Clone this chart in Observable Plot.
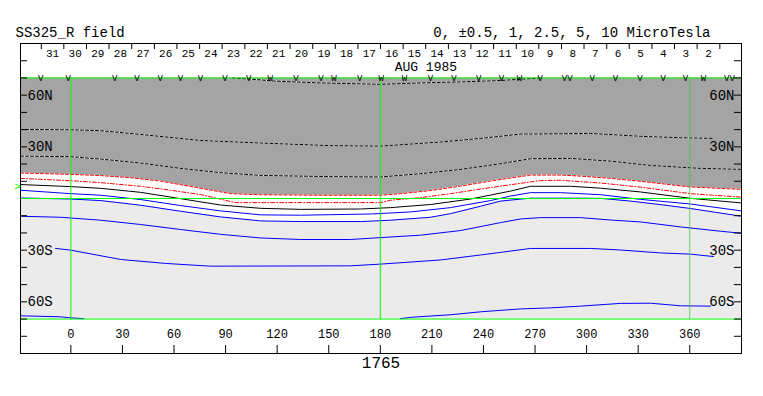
<!DOCTYPE html>
<html><head><meta charset="utf-8">
<script src="https://cdn.jsdelivr.net/npm/d3@7"></script>
<script src="https://cdn.jsdelivr.net/npm/@observablehq/plot@0.6"></script>
<style>body{margin:0;background:#fff}</style>
</head><body><div id="chart"></div>
<script>
const title = "SS325_R field";
const levelsLabel = "0, \u00B10.5, 1, 2.5, 5, 10 MicroTesla";
const rotationLabel = "1765";
const monthLabel = "AUG 1985";

const lonDomain = [-29.3, 390.1];
const lonTicks = [0, 30, 60, 90, 120, 150, 180, 210, 240, 270, 300, 330, 360];
const latTicks = [-80, -70, -60, -50, -40, -30, -20, -10, 10, 20, 30, 40, 50, 60, 70, 80];
const latLabelValues = [60, 30, -30, -60];
const latLabelTexts = ["60N", "30N", "30S", "60S"];

const dayLabels = [31,30,29,28,27,26,25,24,23,22,21,20,19,18,17,16,15,14,13,12,11,10,9,8,7,6,5,4,3,2];
const dayTickLon = [-17.2,-4.1,9.1,22.2,35.4,48.6,61.7,74.9,88.0,101.2,114.3,127.5,140.7,153.8,167.0,180.1,193.3,206.4,219.6,232.7,245.9,259.1,272.2,285.4,298.5,311.7,324.8,338.0,351.1,364.3,377.5];

const markLon = [-17.6,-1.5,25.5,38.5,52.0,63.8,75.4,89.7,103.5,116.0,131.0,145.5,153.0,168.0,180.5,194.0,209.2,222.8,237.3,250.5,261.0,273.0,288.7,303.2,316.8,331.0,344.5,357.5,368.0,383.1];
const markGlyph = ["V","V","V","V","V","V","V","V","V","W","V","V","W","V","W","W","V","V","V","V","W","V","VV","V","V","V","V","V","W","VV"];

const subsolarLat = 7;

// contour lines [lon, lat]
const contourT1 = [[94.0,70],[107.4,69.1],[117.9,68.2],[145.2,67.1],[180.1,66.3],[203.4,67.1],[226.7,67.7],[249.9,68.5],[273.2,70]];
const contourT2 = [[-29.3,40.1],[0,39.9],[17.3,39.4],[40.5,37.2],[75.4,33.7],[110.3,32.2],[151.0,30.7],[180.1,30.4],[215.0,32.8],[238.3,34.9],[261.5,37.4],[284.8,37.6],[302.3,37.8],[319.7,36.8],[331.4,36.1],[354.6,35.3],[373.2,34.9]];
const contourT3 = [[-29.3,24.6],[0,24.3],[17.3,22.9],[40.5,20.6],[63.8,17.5],[87.1,15.0],[110.3,13.4],[151.0,12.7],[180.1,12.5],[203.4,14.4],[226.7,16.9],[249.9,20.2],[267.4,23.1],[290.6,23.3],[313.9,21.7],[337.2,19.2],[366.2,17.5],[390.1,16.9]];
const contourZero = [[-29.3,14.8],[0,14.0],[17.3,13.3],[34.7,12.1],[52.2,10.1],[72.5,6.5],[92.9,2.8],[110.3,2.2],[145.0,1.9],[180.1,1.9],[191.7,2.8],[209.2,4.6],[226.7,7.2],[244.1,10.1],[255.7,11.9],[267.4,13.6],[284.8,13.6],[296.5,13.0],[313.9,11.7],[331.4,10.0],[360.4,6.7],[390.1,5.3]];
const contourHalf = [[-29.3,11.7],[0,10.3],[17.3,9.2],[40.5,7.1],[58.0,4.8],[75.4,2.3],[95.8,-2.4],[110.3,-2.4],[180.1,-2.4],[185.9,-1.0],[203.4,0.5],[220.8,2.8],[238.3,5.5],[255.7,8.0],[273.2,10.4],[284.8,10.6],[308.1,9.0],[331.4,6.6],[360.4,2.8],[390.1,0.8]];
const contourOne = [[-29.3,8.1],[0,6.9],[17.3,5.9],[40.5,3.6],[63.8,-0.1],[87.1,-3.8],[110.3,-5.7],[133.6,-6.3],[168.5,-6.1],[185.9,-5.3],[209.2,-3.5],[232.5,-0.3],[255.7,4.3],[267.4,7.1],[290.6,7.1],[308.1,6.0],[331.4,3.8],[360.4,0.1],[390.1,-2.6]];
const contourA = [[-29.3,4.8],[0,2.8],[17.3,1.9],[40.5,-0.6],[63.8,-4.1],[87.1,-7.2],[110.3,-9.5],[133.6,-9.7],[174.3,-9.0],[197.6,-7.8],[220.8,-5.3],[244.1,-1.2],[255.7,1.4],[267.4,3.4],[284.8,3.4],[308.1,2.2],[331.4,-0.5],[360.4,-3.2],[390.1,-7.2]];
const contourB = [[-29.3,0.3],[0,-0.3],[17.3,-1.2],[40.5,-3.9],[63.8,-7.4],[87.1,-10.7],[110.3,-13.0],[133.6,-13.4],[168.5,-13.4],[185.9,-12.6],[209.2,-10.9],[220.8,-8.8],[238.3,-4.5],[249.9,-1.5],[267.4,0.2],[290.6,0.2],[308.1,0.1],[325.5,-1.5],[345.0,-3.8],[360.4,-5.8],[390.1,-10.3]];
const contourC = [[-29.3,-10.3],[-6.0,-10.9],[17.3,-12.6],[40.5,-15.1],[63.8,-18.0],[87.1,-20.8],[110.3,-22.9],[133.6,-23.8],[162.7,-23.8],[180.1,-22.7],[203.4,-21.3],[226.7,-18.6],[249.9,-14.0],[261.5,-11.9],[273.2,-11.1],[296.5,-11.1],[313.9,-12.5],[331.4,-13.6],[354.6,-16.5],[377.9,-19.0],[390.1,-20.2]];
const contourD = [[-8.9,-29.0],[0,-30.0],[28.9,-35.4],[55.1,-37.7],[81.2,-39.3],[162.7,-39.1],[180.1,-38.1],[215.0,-35.7],[238.3,-32.8],[267.4,-29.0],[302.3,-29.0],[319.7,-29.9],[343.0,-31.6],[360.4,-32.3],[373.8,-33.7]];
const contourE1 = [[-29.3,-68.1],[-6.0,-68.7],[0,-69.3],[7.4,-69.8]];
const contourE2 = [[191.7,-69.8],[197.6,-69.0],[220.8,-67.5],[238.3,-65.8],[261.5,-64.1],[279.0,-63.5],[296.5,-62.5],[319.7,-60.9],[337.2,-60.8],[354.6,-62.3],[372.1,-62.5]];

const greenLon = [0, 180];
const greenLat = [70, 0, -70];
const dataLatEdge = [70, -70];

const X = d => d[0], Y = d => d[1];
const dayMid = dayLabels.map((d, i) => ({d, lon: (dayTickLon[i] + dayTickLon[i + 1]) / 2}));
const marks = markLon.map((lon, i) => ({lon, g: markGlyph[i]}));
const latLabels = latLabelValues.map((lat, i) => ({lat, t: latLabelTexts[i]}));

const dashedWhite = (data) => [
  Plot.line(data, {x: X, y: Y, stroke: "white", strokeWidth: 1}),
  Plot.line(data, {x: X, y: Y, stroke: "black", strokeWidth: 1, strokeDasharray: "3,2"})
];
const solid = (data, color) => Plot.line(data, {x: X, y: Y, stroke: color, strokeWidth: 1});

const chart = Plot.plot({
  width: 763, height: 396,
  marginLeft: 20, marginRight: 22, marginTop: 43, marginBottom: 43,
  x: {domain: lonDomain, axis: null},
  y: {domain: [-90, 90], axis: null},
  style: {fontFamily: "'Liberation Mono', monospace", background: "white", overflow: "visible"},
  marks: [
    Plot.areaY(contourZero, {x: X, y1: Y, y2: dataLatEdge[0], fill: "#a4a4a4"}),
    Plot.areaY(contourB, {x: X, y1: dataLatEdge[1], y2: Y, fill: "#ebebeb"}),
    ...dashedWhite(contourT1),
    ...dashedWhite(contourT2),
    ...dashedWhite(contourT3),
    Plot.line(contourZero, {x: X, y: Y, stroke: "#ff0000", strokeWidth: 1, strokeDasharray: "3,2"}),
    Plot.line(contourHalf, {x: X, y: Y, stroke: "#ff0000", strokeWidth: 1, strokeDasharray: "4,2,1,2"}),
    solid(contourOne, "black"),
    solid(contourA, "#0000ff"),
    solid(contourB, "#0000ff"),
    solid(contourC, "#0000ff"),
    solid(contourD, "#0000ff"),
    solid(contourE1, "#0000ff"),
    solid(contourE2, "#0000ff"),
    Plot.ruleY(greenLat, {stroke: "#00ff00", strokeWidth: 1}),
    Plot.ruleX(greenLon, {y1: dataLatEdge[1], y2: dataLatEdge[0], stroke: "#00ff00", strokeWidth: 1}),
    Plot.ruleX([360], {y1: dataLatEdge[1], y2: dataLatEdge[0], stroke: "#40c840", strokeWidth: 0.8}),
    Plot.frame({stroke: "black"}),
    Plot.tickY(latTicks, {y: d => d, insetRight: 714, stroke: "black"}),
    Plot.tickY(latTicks, {y: d => d, insetLeft: 714, stroke: "black"}),
    Plot.tickX(lonTicks, {x: d => d, insetTop: 302, stroke: "black"}),
    Plot.tickX(dayTickLon, {x: d => d, insetBottom: 304, insetTop: 1, stroke: "black"}),
    Plot.text(lonTicks, {x: d => d, frameAnchor: "bottom", dy: -15.5, text: d => String(d), fontSize: 12, fill: "black"}),
    Plot.text(latLabels, {y: "lat", text: "t", frameAnchor: "left", dx: 7, textAnchor: "start", fontSize: 14, fill: "black"}),
    Plot.text(latLabels, {y: "lat", text: "t", frameAnchor: "right", dx: -7, textAnchor: "end", fontSize: 14, fill: "black"}),
    Plot.text(dayMid, {x: "lon", text: d => String(d.d), frameAnchor: "top", dy: 5.5, fontSize: 11, fill: "black"}),
    Plot.text(marks, {x: "lon", text: "g", frameAnchor: "top", dy: 31, fontSize: 9, fill: "black"}),
    Plot.text([monthLabel], {x: [206.5], text: d => d, frameAnchor: "top", dy: 18.5, fontSize: 13, fill: "black"}),
    Plot.text([">"], {x: [lonDomain[0]], y: [subsolarLat], text: d => d, dx: -3, fontSize: 11, fill: "#00ff00"}),
    Plot.text([title], {text: d => d, frameAnchor: "top-left", dx: -5, dy: -16, textAnchor: "start", fontSize: 14, fill: "black"}),
    Plot.text([levelsLabel], {text: d => d, frameAnchor: "top-right", dx: -31, dy: -16, textAnchor: "end", fontSize: 14, fill: "black"}),
    Plot.text([rotationLabel], {text: d => d, frameAnchor: "bottom", dy: 14, fontSize: 16, letterSpacing: "1.8px", fill: "black"})
  ]
});
document.getElementById("chart").appendChild(chart);
</script>
</body></html>
